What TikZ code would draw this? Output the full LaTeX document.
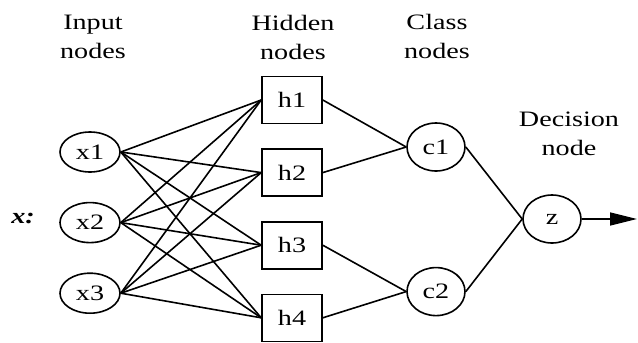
\documentclass[tikz,border=0pt]{standalone}
\usepackage{fontspec}
\setmainfont[FakeStretch=1.28]{Liberation Serif}
\usetikzlibrary{positioning,shapes.geometric,arrows.meta}

\begin{document}
\begin{tikzpicture}[
x=1pt, y=1pt,
every node/.style={font=\fontsize{22}{29}\selectfont},
link/.style={line width=1.6pt},
inputnode/.style={ellipse, draw, line width=1.6pt, minimum width=60pt, minimum height=40pt, inner sep=0pt},
hiddennode/.style={rectangle, draw, line width=1.6pt, minimum width=60pt, minimum height=47pt, inner sep=0pt},
classnode/.style={ellipse, draw, line width=1.6pt, minimum width=58pt, minimum height=48pt, inner sep=0pt},
titlenode/.style={align=center, inner sep=0pt, anchor=north},
]
\useasboundingbox (0,0) rectangle (638,-343);
%Nodes
\node[inputnode]        (x1)       at (90,-152)          {x1};
\node[inputnode]        (x2)       [below=29pt of x1]    {x2};
\node[inputnode]        (x3)       [below=29pt of x2]    {x3};
\node[hiddennode]       (h1)       at (292,-100)         {h1};
\node[hiddennode]       (h2)       [below=24pt of h1]    {h2};
\node[hiddennode]       (h3)       [below=24pt of h2]    {h3};
\node[hiddennode]       (h4)       [below=24pt of h3]    {h4};
\node[classnode]        (c1)       at (436,-147)         {c1};
\node[classnode]        (c2)       [below=95pt of c1]    {c2};
\node[classnode]        (z)        at (552,-219)         {z};
\coordinate             (out)      at (637,-219);

%Titles
\node[titlenode]        (inputtitle)     at (93,-15)     {Input\\nodes};
\node[titlenode]        (hiddentitle)    at (293,-15)    {Hidden\\nodes};
\node[titlenode]        (classtitle)     at (437,-14)    {Class\\nodes};
\node[titlenode]        (decisiontitle)  at (569,-112)   {Decision\\node};
\node[inner sep=0pt]    (xlabel)         at (23,-218)    {\bfseries\itshape x:};

%Lines
\draw[link] (x1.east) -- (h1.west);
\draw[link] (x1.east) -- (h2.west);
\draw[link] (x1.east) -- (h3.west);
\draw[link] (x1.east) -- (h4.west);
\draw[link] (x2.east) -- (h1.west);
\draw[link] (x2.east) -- (h2.west);
\draw[link] (x2.east) -- (h3.west);
\draw[link] (x2.east) -- (h4.west);
\draw[link] (x3.east) -- (h1.west);
\draw[link] (x3.east) -- (h2.west);
\draw[link] (x3.east) -- (h3.west);
\draw[link] (x3.east) -- (h4.west);
\draw[link] (h1.east) -- (c1.west);
\draw[link] (h2.east) -- (c1.west);
\draw[link] (h3.east) -- (c2.west);
\draw[link] (h4.east) -- (c2.west);
\draw[link] (c1.east) -- (z.west);
\draw[link] (c2.east) -- (z.west);
\draw[link, -{Triangle[length=27pt, width=13pt]}] (z.east) -- (out);
\end{tikzpicture}
\end{document}
